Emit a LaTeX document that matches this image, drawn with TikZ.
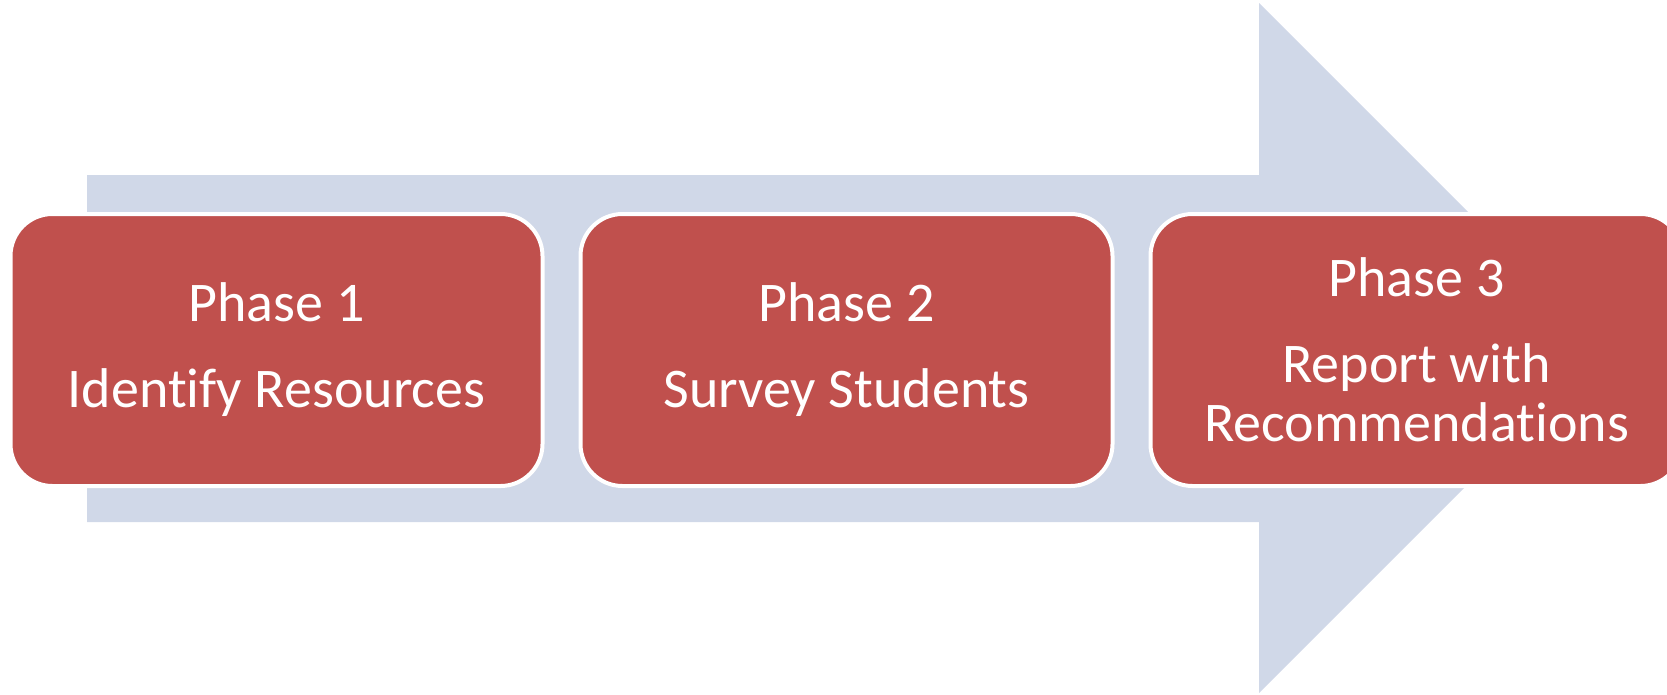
\documentclass[tikz,border=0pt]{standalone}
\usepackage{fontspec}
\setmainfont{Carlito}[Ligatures=NoCommon]
\usetikzlibrary{positioning}

\definecolor{phasered}{RGB}{192,80,77}
\definecolor{arrowblue}{RGB}{208,216,232}

\tikzset{
  phase/.style={rectangle, rounded corners=42pt, fill=phasered, draw=white,
    line width=4pt, minimum width=532pt, minimum height=272pt, outer sep=0pt,
    align=center, text=white, font=\fontsize{56}{59}\selectfont},
}

\begin{document}
\begin{tikzpicture}[x=1pt,y=-1pt]
\useasboundingbox (0,0) rectangle (1667,694);

% big arrow behind the phases
\fill[arrowblue] (87,175) -- (1259,175) -- (1259,3) -- (1604,348)
  -- (1259,693) -- (1259,522) -- (87,522) -- cycle;

\node[phase] (p1) at (276.5,350) {Phase 1\\[27pt]Identify Resources};
\node[phase, right=38pt of p1] (p2) {Phase 2\\[27pt]Survey Students};
\node[phase, right=38pt of p2] (p3) {Phase 3\\[27pt]Report with\\Recommendations};
\end{tikzpicture}
\end{document}
